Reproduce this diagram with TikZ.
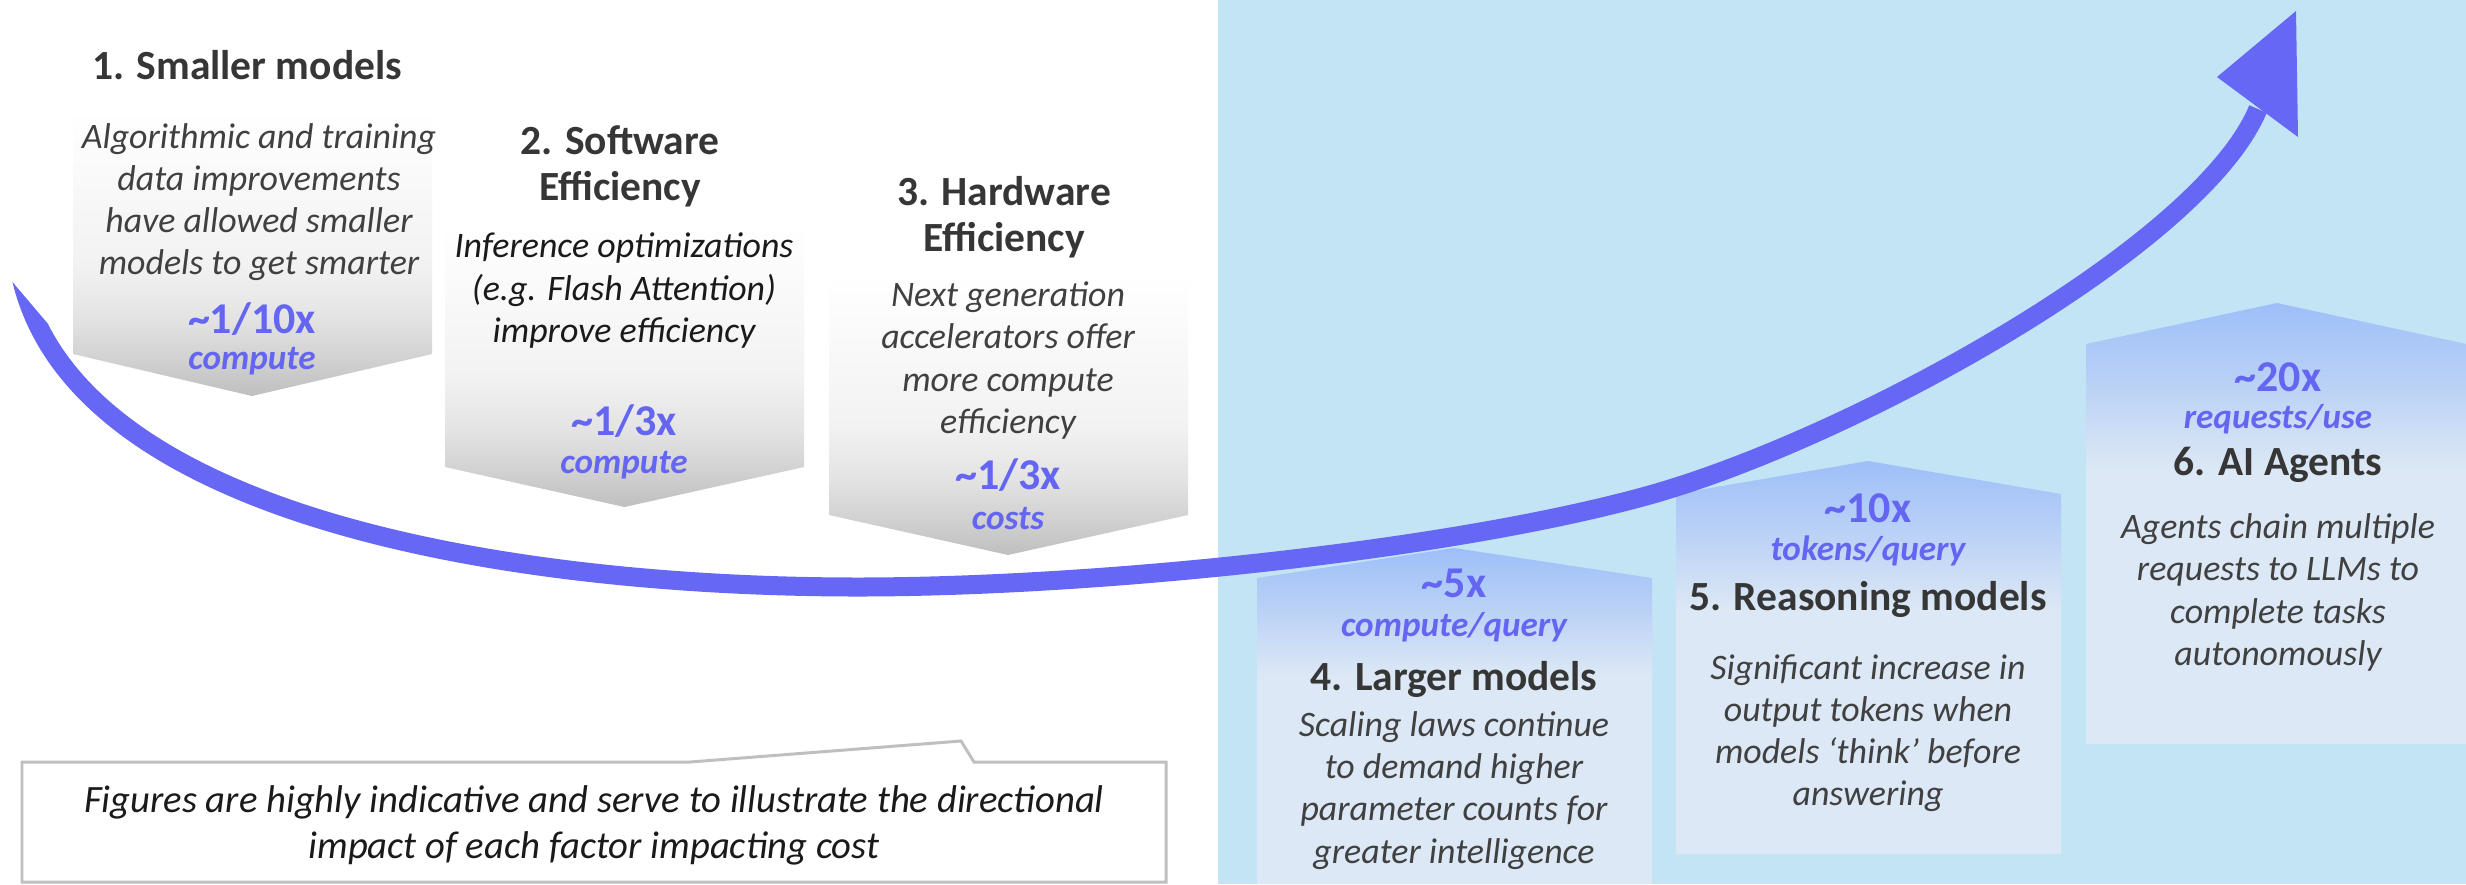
\documentclass[tikz,border=0pt]{standalone}
\usepackage{fontspec}
\setmainfont{Carlito}
\definecolor{bgblue}{HTML}{C2E4F4}
\definecolor{arrowc}{HTML}{6668F5}
\definecolor{accent}{HTML}{6466F2}
\definecolor{headc}{HTML}{363636}
\definecolor{bodyc}{HTML}{404040}
\definecolor{darkc}{HTML}{1A1A1A}
\definecolor{gbot}{HTML}{BFBFBF}
\definecolor{gone}{HTML}{D0D0D0}
\definecolor{gtwo}{HTML}{E3E3E3}
\definecolor{gthree}{HTML}{F2F2F2}
\definecolor{btop}{HTML}{9DBFF8}
\definecolor{bmid}{HTML}{BDD3F6}
\definecolor{bpale}{HTML}{DCE8F5}
\definecolor{noteb}{HTML}{BFBFBF}
\pgfdeclareverticalshading{grayfade}{100bp}{color(0bp)=(gbot); color(25bp)=(gbot); color(31bp)=(gone); color(38.5bp)=(gtwo); color(48bp)=(gthree); color(75bp)=(white); color(100bp)=(white)}
\pgfdeclareverticalshading{bluefade}{100bp}{color(0bp)=(bpale); color(25bp)=(bpale); color(56bp)=(bpale); color(65bp)=(bmid); color(75bp)=(btop); color(100bp)=(btop)}
\tikzset{
  head/.style={font=\bfseries\fontsize{11.8}{13}\selectfont, text=headc, align=center, inner sep=0pt},
  body/.style={font=\itshape\fontsize{10.2}{12}\selectfont, text=bodyc, align=center, inner sep=0pt},
  big/.style={font=\bfseries\fontsize{12.5}{14}\selectfont, text=accent, inner sep=0pt},
  unit/.style={font=\bfseries\itshape\fontsize{10}{12}\selectfont, text=accent, inner sep=0pt},
  graybox/.style={shading=grayfade},
  bluebox/.style={shading=bluefade},
  shaft/.style={draw=arrowc, line width=0.19cm, line cap=butt},
}
\begin{document}
\begin{tikzpicture}[x=0.01cm,y=-0.01cm]
\useasboundingbox (0,0) rectangle (2466,884);
\fill[white] (0,0) rectangle (2466,884);
\fill[bgblue] (1218,0) rectangle (2466,884);

% gray downward boxes
\path[graybox] (73,110) -- (432,110) -- (432,354) -- (252,396) -- (73,354) -- cycle;
\path[graybox] (445,225) -- (804,225) -- (804,467) -- (624.5,507) -- (445,467) -- cycle;
\path[graybox] (829,275) -- (1188,275) -- (1188,515) -- (1008,555) -- (829,515) -- cycle;

% blue upward boxes
\path[bluebox] (1257,884) -- (1257,578) -- (1454,548) -- (1652,578) -- (1652,884) -- cycle;
\path[bluebox] (1676,854) -- (1676,494) -- (1868,461) -- (2061,494) -- (2061,854) -- cycle;
\path[bluebox] (2086,744) -- (2086,344) -- (2277,303) -- (2466,344) -- (2466,744) -- cycle;

% note callout
\draw[noteb, line width=0.85pt, fill=white] (22,762) -- (690,762) -- (961,741) -- (974,762) -- (1166,762) -- (1166,882) -- (22,882) -- cycle;

% big curved arrow: obliquely cut tail, constant shaft, triangular head
\coordinate (tail) at (20,272);
\coordinate (low) at (858,587);
\coordinate (mid) at (1646,496);
\coordinate (neck) at (2258,109);
\begin{scope}
  \clip (-13,252) -- (71,351) -- (900,351) -- (900,-10) -- (2500,-10) -- (2500,900) -- (-13,900) -- cycle;
  \path[shaft] (tail) .. controls (70,520) and (520,587) .. (low)
    .. controls (1100,587) and (1450,550) .. (mid)
    .. controls (1846,441) and (2200.5,247.6) .. (neck);
\end{scope}
\fill[arrowc] (2217,77) -- (2296,11) -- (2298,137) -- cycle;

% box 1
\node[head] (h1) at (247,65) {1. Smaller models};
\node[body] (b1) at (259,202) {Algorithmic and training\\data improvements\\have allowed smaller\\models to get smarter};
\node[big] (v1) at (252,319) {\textasciitilde1/10x};
\node[unit] (u1) at (252,361) {compute};
% box 2
\node[head] (h2) at (620,166.5) {2. Software\\Efficiency};
\node[body, text=darkc] (b2) at (624,290.5) {Inference optimizations\\(e.g. Flash Attention)\\improve efficiency};
\node[big] (v2) at (624,421) {\textasciitilde1/3x};
\node[unit] (u2) at (624,465) {compute};
% box 3
\node[head] (h3) at (1004,217.5) {3. Hardware\\Efficiency};
\node[body] (b3) at (1008,360.5) {Next generation\\accelerators offer\\more compute\\efficiency};
\node[big] (v3) at (1008,475) {\textasciitilde1/3x};
\node[unit] (u3) at (1008,519) {costs};
% box 4
\node[big] (v4) at (1454,583) {\textasciitilde5x};
\node[unit] (u4) at (1454,627) {compute/query};
\node[head] (h4) at (1454,679) {4. Larger models};
\node[body] (b4) at (1454,790.5) {Scaling laws continue\\to demand higher\\parameter counts for\\greater intelligence};
% box 5
\node[big] (v5) at (1868,508) {\textasciitilde10x};
\node[unit] (u5) at (1868,551) {tokens/query};
\node[head] (h5) at (1868,599) {5. Reasoning models};
\node[body] (b5) at (1868,733) {Significant increase in\\output tokens when\\models ‘think’ before\\answering};
% box 6
\node[big] (v6) at (2278,377) {\textasciitilde20x};
\node[unit] (u6) at (2278,419) {requests/use};
\node[head] (h6) at (2278,465) {6. AI Agents};
\node[body] (b6) at (2278,592.5) {Agents chain multiple\\requests to LLMs to\\complete tasks\\autonomously};
% note
\node[body, text=darkc, font=\itshape\fontsize{11}{13.1}\selectfont] (note) at (594,825) {Figures are highly indicative and serve to illustrate the directional\\impact of each factor impacting cost};
\end{tikzpicture}
\end{document}
